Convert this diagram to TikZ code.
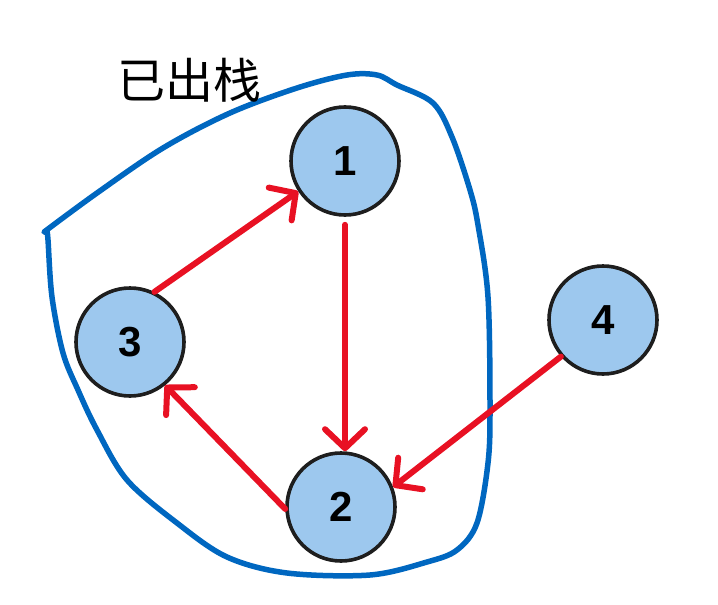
\documentclass[tikz,border=0pt]{standalone}
\usepackage{fontspec}
\setmainfont{Liberation Sans}
\newfontfamily\cjk{Noto Sans CJK SC}
\usetikzlibrary{arrows.meta}
\definecolor{nodefill}{RGB}{157,200,238}
\definecolor{edgered}{RGB}{232,17,35}
\definecolor{loopblue}{RGB}{0,103,192}
\definecolor{ringgray}{RGB}{30,30,30}
\tikzset{
  vert/.style={circle, draw=ringgray, line width=3.6pt, fill=nodefill, minimum size=108pt, inner sep=0pt,
    font=\fontsize{42}{42}\selectfont\bfseries},
  edge/.style={draw=edgered, line width=6pt, line cap=round,
    -{Straight Barb[length=19pt, width=40pt, line cap=round, line join=round]}},
  loop/.style={draw=loopblue, line width=5.5pt, line cap=round, line join=round}
}
\begin{document}
\begin{tikzpicture}[x=1pt, y=-1pt]
\useasboundingbox (0,0) rectangle (718,605);
\draw[loop] plot[smooth, tension=0.55] coordinates {
 (44,232) (97,193) (163,148) (230,113) (297,88) (347,75) (377,75) (397,85) (433,103)
 (452,137) (470,190) (478,225) (488,297) (490,407) (488,463) (477,523) (457,550)
 (427,562) (370,575) (287,573) (227,557) (177,523) (127,480) (97,430) (78,390)
 (63,353) (52,297) (48,240) (47,232)} -- cycle;
\node[font=\cjk\fontsize{48}{48}\selectfont] (title) at (189,80) {已出栈};
\node[vert] (n1) at (345,161) {1};
\node[vert] (n2) at (341,507) {2};
\node[vert] (n3) at (130,342) {3};
\node[vert] (n4) at (603,320) {4};
\draw[edge] ([yshift=-8pt]n1.south -| 345,0) -- (345,0 |- n2.north);
\draw[edge] (n3.64) -- (n1.213);
\draw[edge] (n2.182) -- (n3.309);
\draw[edge] (n4.221) -- (n2.21);
\end{tikzpicture}
\end{document}
